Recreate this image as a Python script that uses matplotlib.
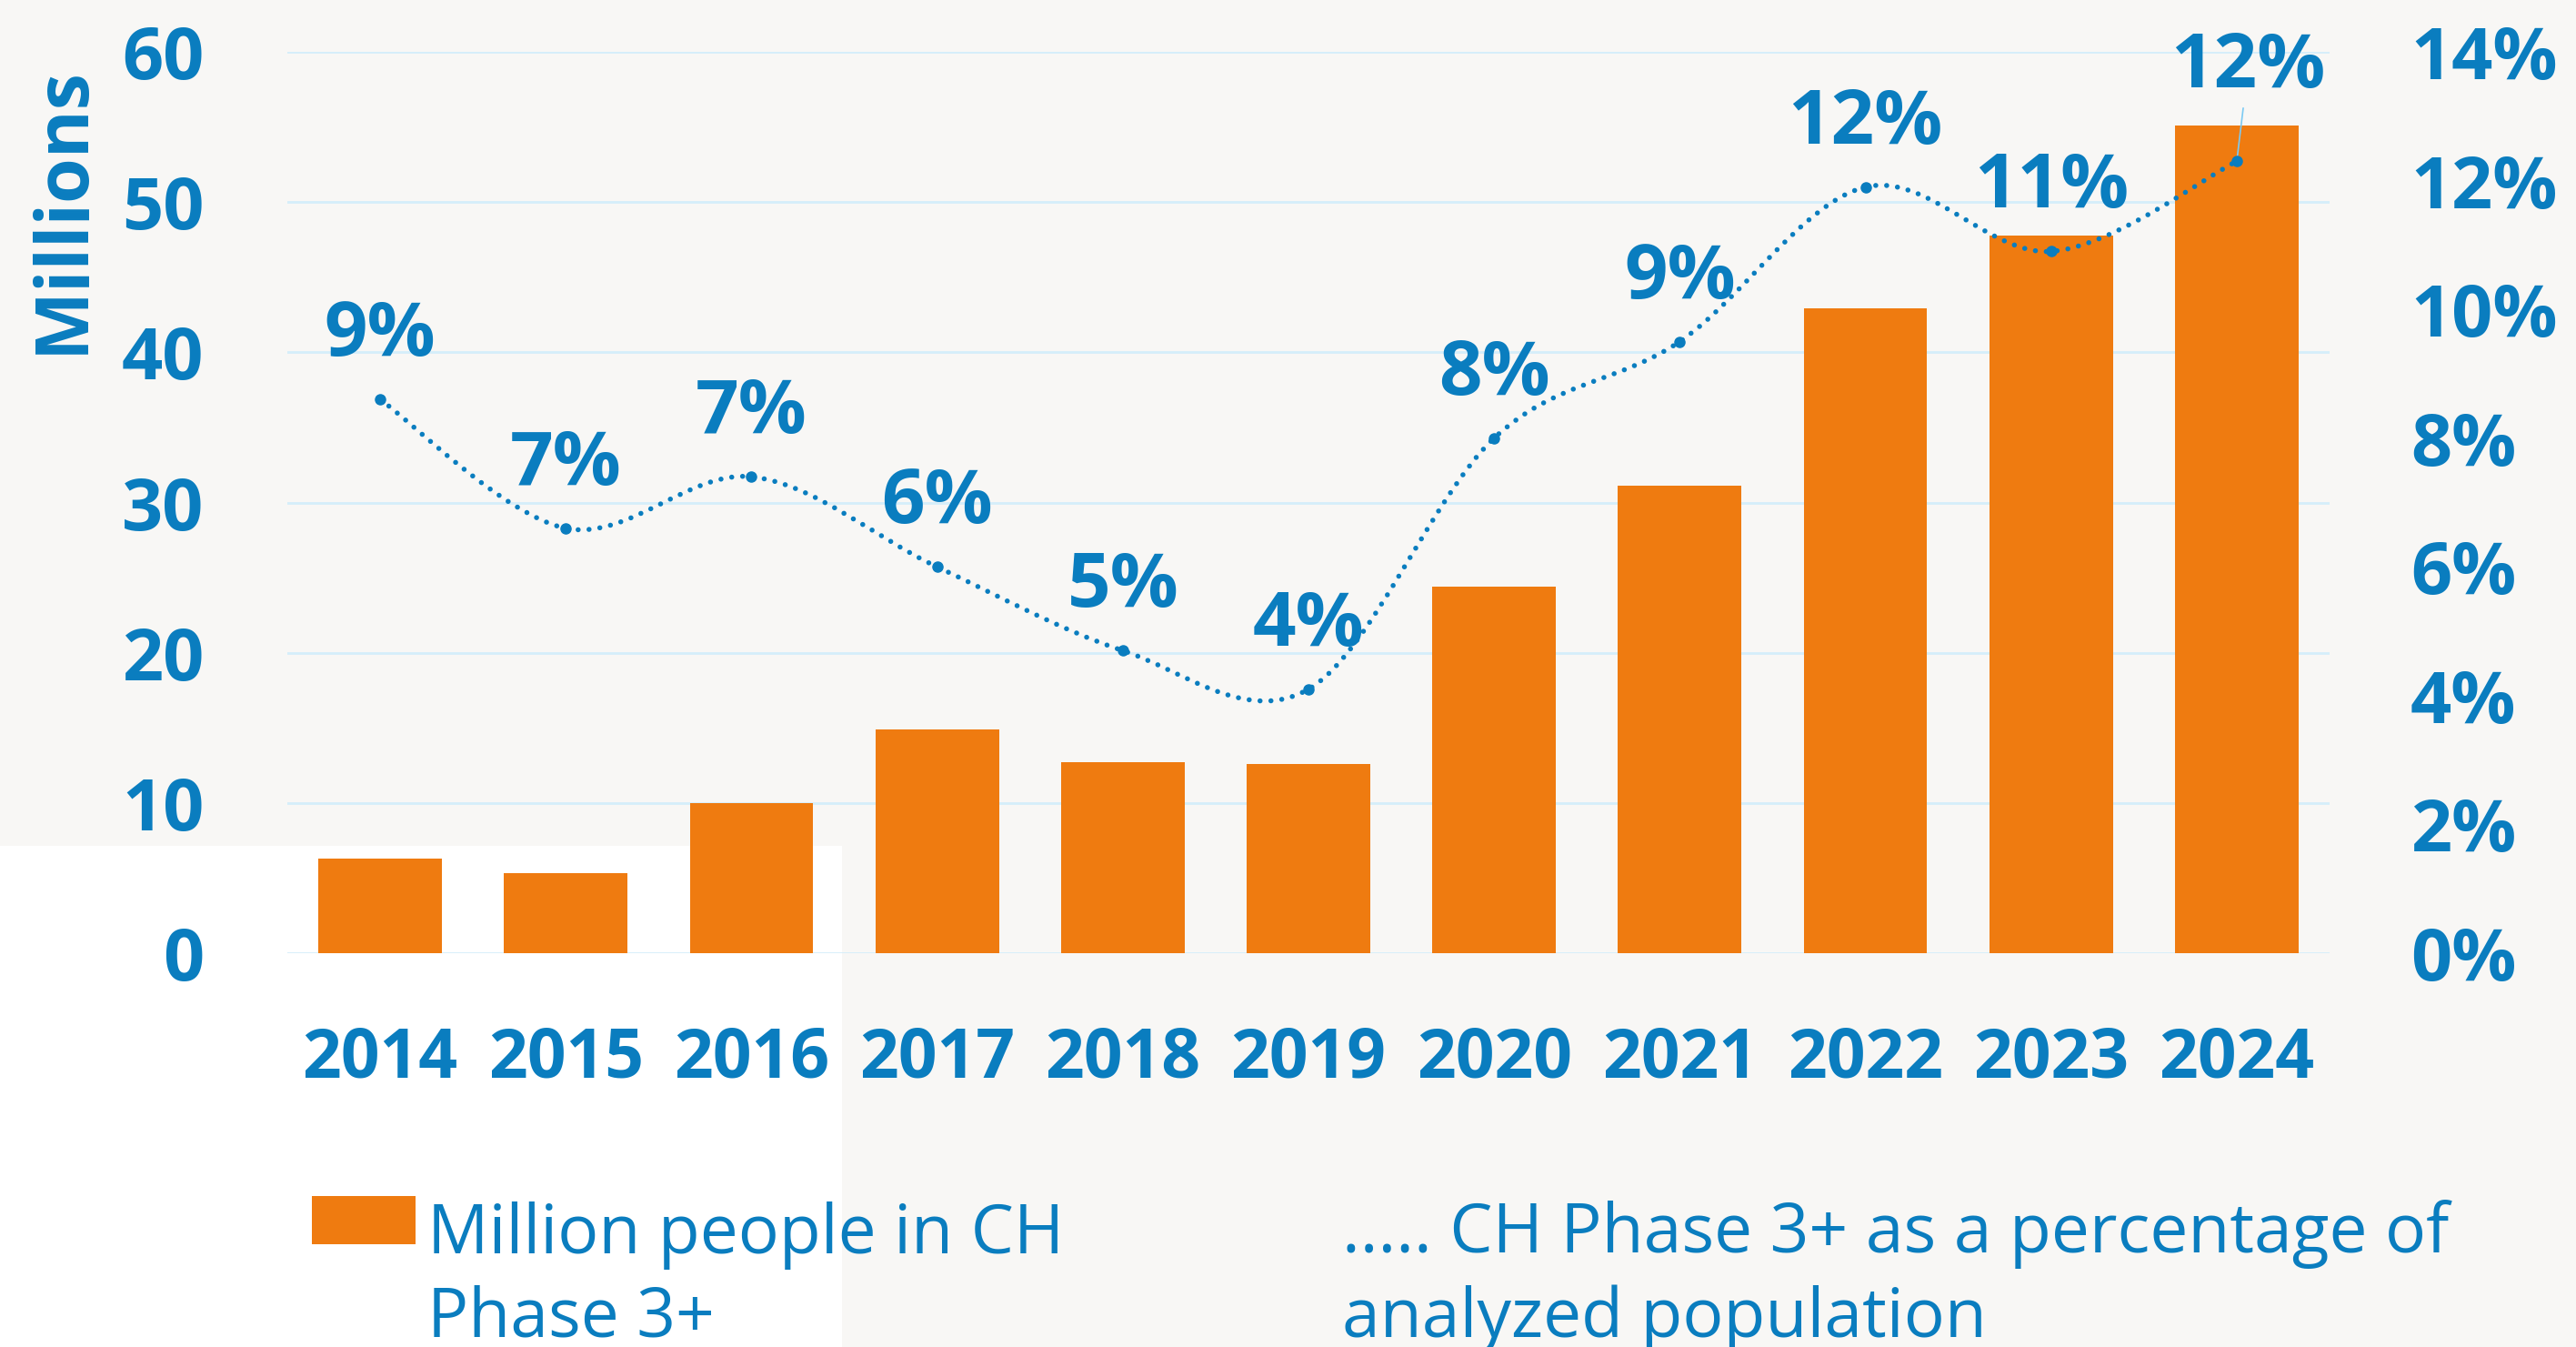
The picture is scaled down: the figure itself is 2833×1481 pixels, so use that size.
import numpy as np
import matplotlib
matplotlib.use("Agg")
import matplotlib.pyplot as plt
from matplotlib.path import Path
from matplotlib.patches import PathPatch, Rectangle

# data
years = ['2014', '2015', '2016', '2017', '2018', '2019',
         '2020', '2021', '2022', '2023', '2024']
people_m = [6.3, 5.3, 10.0, 14.9, 12.7, 12.6, 24.4, 31.1, 42.9, 47.8, 55.1]
share_pct = [8.6, 6.6, 7.4, 6.0, 4.7, 4.1, 8.0, 9.5, 11.9, 10.9, 12.3]
share_labels = ['9%', '7%', '7%', '6%', '5%', '4%', '8%', '9%', '12%', '11%', '12%']
left_ticks = [0, 10, 20, 30, 40, 50, 60]
right_ticks = [0, 2, 4, 6, 8, 10, 12, 14]

BLUE = '#0a7dbf'
ORANGE = '#ef7b10'
GRID = '#d5eefa'
BG = '#f8f7f5'

plt.rcParams['font.family'] = ['Open Sans', 'DejaVu Sans']

W, H = 2833, 1481
fig = plt.figure(figsize=(W / 100, H / 100), dpi=100, facecolor=BG)
# white block bottom-left, as in the reference
fig.patches.append(Rectangle((0, 0), 926 / W, (H - 930) / H, transform=fig.transFigure,
                             facecolor='white', edgecolor='none', zorder=-5))

ax = fig.add_axes([316 / W, 1 - 1048 / H, (2562 - 316) / W, (1048 - 57) / H])
ax.set_facecolor('none')
x = np.arange(len(years))
ax.bar(x, people_m, width=0.665, color=ORANGE, zorder=2)
ax.set_xlim(-0.5, len(years) - 0.5)
ax.set_ylim(0, 60)
ax.set_yticks(left_ticks)
ax.set_xticks(x)
ax.set_xticklabels(years)
ax.grid(axis='y', color=GRID, lw=2, zorder=0)
ax.set_axisbelow(True)
for s in ax.spines.values():
    s.set_visible(False)
ax.tick_params(axis='y', length=0, pad=66, labelsize=57, labelcolor=BLUE)
ax.tick_params(axis='x', length=0, pad=57, labelsize=54, labelcolor=BLUE)
for lab in ax.get_xticklabels() + ax.get_yticklabels():
    lab.set_fontweight('bold')

fig.text(70 / W, 1 - 231 / H, 'Millions', rotation=90, ha='center', va='center',
         fontsize=58, fontweight='bold', color=BLUE)

# secondary axis with the percentage line
ax2 = ax.twinx()
ax2.set_ylim(0, 14)
ax2.set_yticks(right_ticks)
ax2.set_yticklabels([f'{t}%' for t in right_ticks])
for s in ax2.spines.values():
    s.set_visible(False)
ax2.tick_params(axis='y', length=0, pad=64, labelsize=57, labelcolor=BLUE)
for lab in ax2.get_yticklabels():
    lab.set_fontweight('bold')

# smoothed line (Excel-style bezier through the points)
px = x.astype(float)
py = np.array(share_pct, dtype=float)
verts = [(px[0], py[0])]
codes = [Path.MOVETO]
n = len(px)
for i in range(n - 1):
    p0 = np.array([px[max(i - 1, 0)], py[max(i - 1, 0)]])
    p1 = np.array([px[i], py[i]])
    p2 = np.array([px[i + 1], py[i + 1]])
    p3 = np.array([px[min(i + 2, n - 1)], py[min(i + 2, n - 1)]])
    c1 = p1 + (p2 - p0) / 6
    c2 = p2 - (p3 - p1) / 6
    verts += [tuple(c1), tuple(c2), tuple(p2)]
    codes += [Path.CURVE4] * 3
curve = PathPatch(Path(verts, codes), facecolor='none', edgecolor=BLUE, lw=4,
                  linestyle=(0, (0.01, 2.15)), capstyle='round', zorder=3)
ax2.add_patch(curve)
ax2.plot(px, py, 'o', ms=8, color=BLUE, zorder=4)

for i, lab in enumerate(share_labels):
    if i == n - 1:
        ax2.annotate(lab, (px[i], py[i]), xytext=(9, 74), textcoords='offset points',
                     ha='center', va='center', fontsize=60, fontweight='bold', color=BLUE,
                     arrowprops=dict(arrowstyle='-', color='#7ccaf2', lw=1.2,
                                     shrinkA=0, shrinkB=2))
    else:
        ax2.annotate(lab, (px[i], py[i]), xytext=(0, 50), textcoords='offset points',
                     ha='center', va='center', fontsize=60, fontweight='bold', color=BLUE)

# legend drawn as in the source graphic
fig.patches.append(Rectangle((343 / W, 1 - 1368 / H), 114 / W, 53 / H,
                             transform=fig.transFigure, facecolor=ORANGE, edgecolor='none'))
fig.text(470 / W, 1 - 1470 / H, 'Million people in CH\nPhase 3+', ha='left', va='baseline',
         fontsize=54, color=BLUE, linespacing=1.3)
fig.text(1476 / W, 1 - 1470 / H, '..... CH Phase 3+ as a percentage of\nanalyzed population',
         ha='left', va='baseline', fontsize=54, color=BLUE, linespacing=1.3)

fig.savefig('out.png', dpi=100, facecolor=BG)
